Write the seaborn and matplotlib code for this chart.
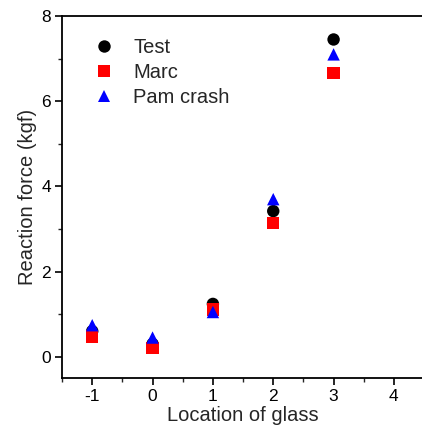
import matplotlib
matplotlib.use("Agg")
import matplotlib.pyplot as plt
from matplotlib.ticker import MultipleLocator
import seaborn as sns
import pandas as pd

locations = [-1, 0, 1, 2, 3]
test_force = [0.60, 0.30, 1.24, 3.42, 7.45]
marc_force = [0.47, 0.21, 1.11, 3.14, 6.66]
pam_force = [0.74, 0.45, 1.05, 3.70, 7.10]
series_names = ["Test", "Marc", "Pam crash"]

df = pd.DataFrame({
    "Location of glass": locations * 3,
    "Reaction force (kgf)": test_force + marc_force + pam_force,
    "series": [series_names[0]] * 5 + [series_names[1]] * 5 + [series_names[2]] * 5,
})

sns.set_style("ticks")
plt.rcParams["font.family"] = ["Liberation Sans", "DejaVu Sans"]
plt.rcParams["axes.unicode_minus"] = False

fig = plt.figure(figsize=(4.22, 4.34), dpi=100)
ax = fig.add_axes([0.147, 0.129, 0.858, 0.834])

sns.scatterplot(
    data=df, x="Location of glass", y="Reaction force (kgf)",
    hue="series", style="series",
    palette={"Test": "black", "Marc": "#ff0000", "Pam crash": "#0000ff"},
    markers={"Test": "o", "Marc": "s", "Pam crash": "^"},
    s=80, linewidth=0, ax=ax, zorder=3,
)

ax.set_xlim(-1.5, 4.5)
ax.set_ylim(-0.5, 8)
ax.xaxis.set_major_locator(MultipleLocator(1))
ax.xaxis.set_minor_locator(MultipleLocator(0.5))
ax.yaxis.set_major_locator(MultipleLocator(2))
ax.yaxis.set_minor_locator(MultipleLocator(1))
ax.tick_params(which="major", direction="out", length=5, width=1.2, labelsize=12.5,
               colors="black", pad=3)
ax.tick_params(which="minor", direction="out", length=3, width=1.0)
for side in ["left", "bottom", "top"]:
    ax.spines[side].set_linewidth(1.3)
    ax.spines[side].set_color("black")
ax.spines["right"].set_visible(False)
ax.set_xlabel("Location of glass", fontsize=14.5, labelpad=1)
ax.set_ylabel("Reaction force (kgf)", fontsize=14.5, labelpad=3)

handles, labels = ax.get_legend_handles_labels()
leg = ax.legend(handles, labels, loc="upper left", bbox_to_anchor=(0.038, 0.99),
                frameon=False, fontsize=14.5, handlelength=1.0, handletextpad=0.95,
                labelspacing=0.3, markerscale=1.0)

fig.savefig("out.png", dpi=100)
